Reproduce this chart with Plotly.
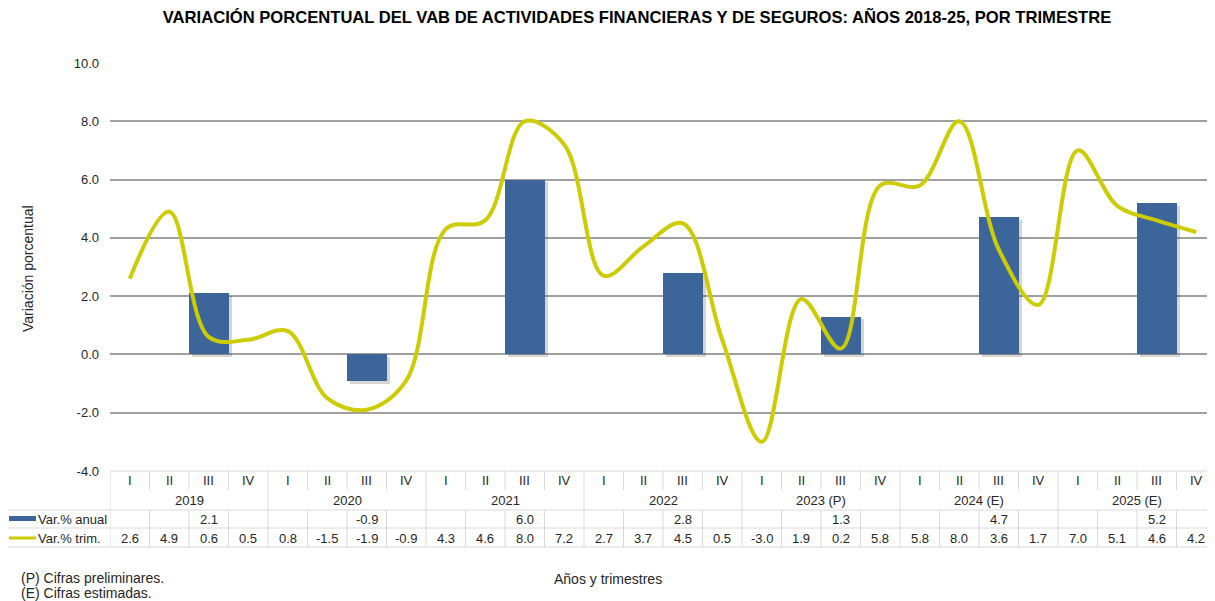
import plotly.graph_objects as go

# datos del cuadro
anios = ["2019", "2020", "2021", "2022", "2023 (P)", "2024 (E)", "2025 (E)"]
trimestres = ["I", "II", "III", "IV"]
var_anual = [2.1, -0.9, 6.0, 2.8, 1.3, 4.7, 5.2]   # se grafica en el trimestre III
var_trim = [2.6, 4.9, 0.6, 0.5, 0.8, -1.5, -1.9, -0.9, 4.3, 4.6, 8.0, 7.2, 2.7, 3.7,
            4.5, 0.5, -3.0, 1.9, 0.2, 5.8, 5.8, 8.0, 3.6, 1.7, 7.0, 5.1, 4.6, 4.2]
ticks_y = [-4, -2, 0, 2, 4, 6, 8, 10]

AZUL = "#3C6699"
AMARILLO = "#CCCC00"
GRIS = "#d9d9d9"
FUENTE = "Liberation Sans, Arial, sans-serif"

# la página tiene 8px de margen en el body: se compensa
OFF = 8
W, H = 1215 - OFF, 601 - OFF
TOP, BOT, LEFT = 63, 471, 110          # pixeles de la imagen de referencia
ALTO = BOT - TOP
ANCHO = 1215 - LEFT


def py(p):
    # pixel vertical (referencia) -> coordenada paper
    return (BOT - p) / ALTO


def px(p):
    return (p - LEFT) / ANCHO


n = len(var_trim)
x_pos = list(range(n))
x_anual = [4 * i + 2 for i in range(len(var_anual))]

fig = go.Figure()
# sombra suave de las barras
fig.add_trace(go.Bar(x=x_anual, y=var_anual, base=-0.1, width=1.0, offset=-0.42,
                     marker_color="rgba(0,0,0,0.16)", marker_line_width=0,
                     hoverinfo="skip", showlegend=False))
fig.add_trace(go.Bar(x=x_anual, y=var_anual, width=1.0, offset=-0.5, marker_color=AZUL,
                     marker_line_width=0, name="Var.% anual", showlegend=False))
fig.add_trace(go.Scatter(x=x_pos, y=var_trim, mode="lines", name="Var.% trim.",
                         line=dict(color=AMARILLO, width=4, shape="spline", smoothing=1.0),
                         showlegend=False))

shapes = []
annotations = []

# líneas del cuadro
for yy in [BOT, 510, 528, 547]:
    x0 = 0 if yy == BOT else px(4)
    shapes.append(dict(type="line", xref="paper", yref="paper", x0=x0, x1=1,
                       y0=py(yy), y1=py(yy), line=dict(color=GRIS, width=1)))
for k in range(n + 1):
    xb = k - 0.5
    if k % 4 == 0:
        shapes.append(dict(type="line", xref="x", yref="paper", x0=xb, x1=xb,
                           y0=py(BOT), y1=py(547), line=dict(color=GRIS, width=1)))
    else:
        shapes.append(dict(type="line", xref="x", yref="paper", x0=xb, x1=xb,
                           y0=py(BOT), y1=py(490), line=dict(color=GRIS, width=1)))
        shapes.append(dict(type="line", xref="x", yref="paper", x0=xb, x1=xb,
                           y0=py(510), y1=py(547), line=dict(color=GRIS, width=1)))

txt = dict(family=FUENTE, size=13, color="#262626")
txt14 = dict(family=FUENTE, size=14, color="#262626")
for k in range(n):
    annotations.append(dict(x=k, y=py(481), xref="x", yref="paper", text=trimestres[k % 4],
                            showarrow=False, font=txt, yanchor="middle"))
    annotations.append(dict(x=k, y=py(538), xref="x", yref="paper", text=f"{var_trim[k]:.1f}",
                            showarrow=False, font=txt, yanchor="middle"))
for i, a in enumerate(anios):
    annotations.append(dict(x=4 * i + 1.5, y=py(500), xref="x", yref="paper", text=a,
                            showarrow=False, font=txt, yanchor="middle"))
    annotations.append(dict(x=x_anual[i], y=py(519), xref="x", yref="paper",
                            text=f"{var_anual[i]:.1f}", showarrow=False, font=txt,
                            yanchor="middle"))

# claves de leyenda en la columna izquierda
shapes.append(dict(type="rect", xref="paper", yref="paper", x0=px(9), x1=px(36),
                   y0=py(521), y1=py(516), fillcolor=AZUL, line_width=0))
shapes.append(dict(type="line", xref="paper", yref="paper", x0=px(9), x1=px(36),
                   y0=py(538), y1=py(538), line=dict(color=AMARILLO, width=3)))
annotations.append(dict(x=px(36), y=py(519), xref="paper", yref="paper", text="Var.% anual",
                        showarrow=False, font=txt, xanchor="left", yanchor="middle"))
annotations.append(dict(x=px(36), y=py(538), xref="paper", yref="paper", text="Var.% trim.",
                        showarrow=False, font=txt, xanchor="left", yanchor="middle"))

# títulos y notas
annotations.append(dict(x=px(28), y=py(269), xref="paper", yref="paper",
                        text="Variación porcentual", textangle=-90, showarrow=False,
                        font=txt14, xanchor="center", yanchor="middle"))
annotations.append(dict(x=px(608), y=py(579), xref="paper", yref="paper",
                        text="Años y trimestres", showarrow=False, font=txt14,
                        xanchor="center", yanchor="middle"))
annotations.append(dict(x=px(19), y=py(578), xref="paper", yref="paper",
                        text="(P) Cifras preliminares.", showarrow=False, font=txt14,
                        xanchor="left", yanchor="middle"))
annotations.append(dict(x=px(19), y=py(593), xref="paper", yref="paper",
                        text="(E) Cifras estimadas.", showarrow=False, font=txt14,
                        xanchor="left", yanchor="middle"))

fig.update_layout(
    width=W, height=H,
    margin=dict(l=LEFT - OFF, r=0, t=TOP - OFF, b=601 - BOT),
    paper_bgcolor="white", plot_bgcolor="white",
    title=dict(text="<b>VARIACIÓN PORCENTUAL DEL VAB DE ACTIVIDADES FINANCIERAS Y DE SEGUROS: "
                    "AÑOS 2018-25, POR TRIMESTRE</b>",
               xref="container", x=(637 - OFF) / W, xanchor="center",
               yref="container", y=1 - (17 - OFF) / H, yanchor="middle",
               font=dict(family=FUENTE, size=16.6, color="black")),
    shapes=shapes, annotations=annotations,
    barmode="overlay", bargap=0,
)
fig.update_xaxes(range=[-0.5, -0.5 + ANCHO / 39.5], showticklabels=False, showgrid=False,
                 zeroline=False, showline=False, ticks="")
fig.update_yaxes(range=[-4, 10], tickvals=ticks_y, ticktext=[f"{v:.1f}" for v in ticks_y],
                 showgrid=True, gridcolor="#a0a0a0", gridwidth=1.5, zeroline=False,
                 showline=False, tickfont=dict(family=FUENTE, size=13, color="#262626"),
                 ticks="", ticklabelstandoff=10)

fig.write_html("out.html")
